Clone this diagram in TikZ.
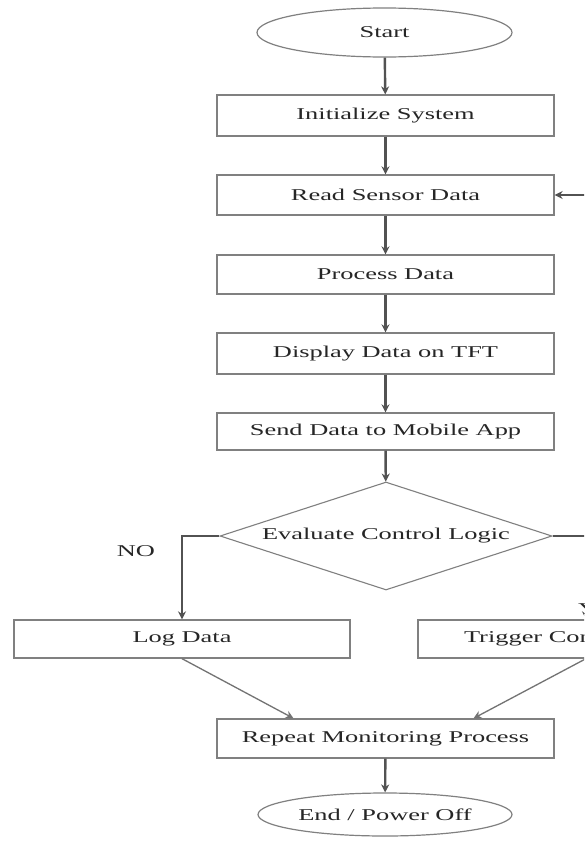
\documentclass[tikz,border=0pt]{standalone}
\usepackage{fontspec}
\setmainfont{Liberation Serif}
\usetikzlibrary{shapes.geometric,arrows.meta}
\newcommand{\wtxt}[1]{\scalebox{1.6}[1]{#1}}
\tikzset{
  txt/.style={font=\fontsize{16.5}{20}\selectfont, text=black!85},
  procbox/.style={txt, draw=black!50, line width=1.3pt, rectangle, minimum width=337pt, inner sep=0pt},
  termin/.style={txt, draw=black!50, line width=1.2pt, ellipse, inner sep=0pt},
  decbox/.style={txt, draw=black!50, line width=1.1pt, diamond, aspect=3.07, inner sep=0pt, minimum width=332pt, minimum height=108pt},
  flow/.style={draw=black!68, line width=2.4pt, -{Stealth[length=8pt,width=8pt]}},
  plain/.style={draw=black!55, line width=1.3pt},
  lbl/.style={txt, inner sep=0pt}
}
\begin{document}
\begin{tikzpicture}[x=1pt,y=-1pt]
\useasboundingbox (0,0) rectangle (584,841);
\clip (0,0) rectangle (584,841);
\fill[white] (0,0) rectangle (584,841);

\node[termin, minimum width=255pt, minimum height=49pt] (start) at (384.5,32.5) {\wtxt{Start}};
\node[procbox, minimum height=41pt] (init) at (385.5,115.5) {\wtxt{Initialize System}};
\node[procbox, minimum height=40pt] (read) at (385.5,195) {\wtxt{Read Sensor Data}};
\node[procbox, minimum height=39pt] (proc) at (385.5,274.5) {\wtxt{Process Data}};
\node[procbox, minimum height=41pt] (disp) at (385.5,353.5) {\wtxt{Display Data on TFT}};
\node[procbox, minimum height=37pt] (send) at (385.5,431.5) {\wtxt{Send Data to Mobile App}};
\node[decbox] (dec) at (386,536) {\wtxt{Evaluate Control Logic}};
\node[procbox, minimum width=336pt, minimum height=38pt] (log) at (182,639) {\wtxt{Log Data}};
\node[procbox, minimum width=336pt, minimum height=38pt] (trig) at (586,639) {\wtxt{Trigger Control Action}};
\node[procbox, minimum height=39pt] (rep) at (385.5,738.5) {\wtxt{Repeat Monitoring Process}};
\node[termin, minimum width=254pt, minimum height=43pt] (stop) at (385,814.5) {\wtxt{End / Power Off}};

\node[lbl] (no) at (136,551) {\wtxt{NO}};
\node[lbl, anchor=west] (yes) at (578,609) {\wtxt{YES}};

\coordinate (loopin) at (600,195);

\draw[flow] (start) -- (init);
\draw[flow] (init) -- (read);
\draw[flow] (read) -- (proc);
\draw[flow] (proc) -- (disp);
\draw[flow] (disp) -- (send);
\draw[flow] (send) -- (dec);
\draw[flow] (dec.west) -| (log.north);
\draw[flow] (dec.east) -| (trig.north);
\draw[plain, -{Stealth[length=8pt,width=8pt]}] (log.south) -- ([xshift=-92pt]rep.north);
\draw[plain, -{Stealth[length=8pt,width=8pt]}] (trig.south) -- ([xshift=88pt]rep.north);
\draw[flow] (rep) -- (stop);
\draw[flow] (loopin) -- (read.east);
\end{tikzpicture}
\end{document}
